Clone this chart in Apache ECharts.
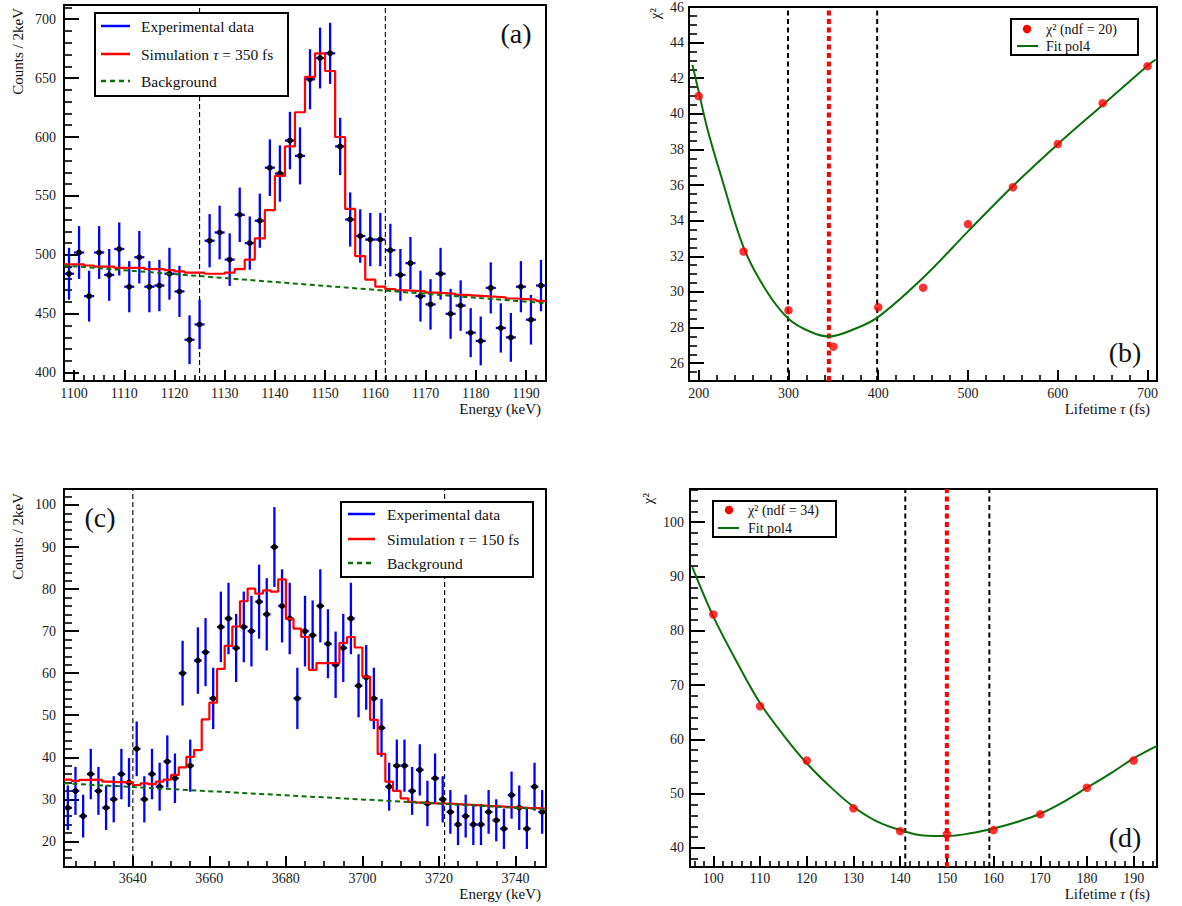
<!DOCTYPE html>
<html><head><meta charset="utf-8">
<script src="https://cdn.jsdelivr.net/npm/echarts@6/dist/echarts.min.js"></script>
<style>html,body{margin:0;padding:0;background:#fff}#c{width:1182px;height:906px}</style>
</head><body><div id="c"></div>
<script>
// ---------------- Panel (a) : 1146 keV line ----------------
const aBinCenters = [1099,1101,1103,1105,1107,1109,1111,1113,1115,1117,1119,1121,1123,1125,1127,1129,1131,1133,1135,1137,1139,1141,1143,1145,1147,1149,1151,1153,1155,1157,1159,1161,1163,1165,1167,1169,1171,1173,1175,1177,1179,1181,1183,1185,1187,1189,1191,1193];
const aCounts = [484,502,465,502,483,505,473,498,473,474,484,469,428,441,512,519,496,534,510,529,574,569,597,584,649,667,671,592,530,516,513,513,504,483,493,465,458,484,450,457,434,427,472,438,430,473,445,474];
const aErrors = [22.0,22.4,21.6,22.4,22.0,22.5,21.7,22.3,21.7,21.8,22.0,21.7,20.7,21.0,22.6,22.8,22.3,23.1,22.6,23.0,24.0,23.9,24.4,24.2,25.5,25.8,25.9,24.3,23.0,22.7,22.6,22.6,22.4,22.0,22.2,21.6,21.4,22.0,21.2,21.4,20.8,20.7,21.7,20.9,20.7,21.7,21.1,21.8];
const aSim = [492,492,491,490,490,489,489,489,488,488,487,486,485,485,484,484,485,488,496,514,538,567,592,621,651,671,656,600,539,499,479,473,471,470,469.5,469,468,467.5,467,466,465.5,465,464.5,464,463,462.5,462,461];
const aBkgX = [1098, 1194];
const aBkgY = [491, 459];
const aWindow = [1125, 1162];
const aXTicks = [1100,1110,1120,1130,1140,1150,1160,1170,1180,1190];
const aYTicks = [400,450,500,550,600,650,700];

// ---------------- Panel (b) : chi2 vs lifetime ----------------
const bTau = [200,250,300,350,400,450,500,550,600,650,700];
const bChi2 = [41.0,32.27,28.97,26.93,29.14,30.24,33.81,35.88,38.31,40.6,42.68];
const bFitTau = [193,200,210,225,250,275,300,325,345,375,400,450,500,550,600,650,700,709];
const bFitChi2 = [42.75,41.25,39.1,36.5,32.5,30.1,28.5,27.75,27.5,27.95,28.6,30.8,33.4,35.95,38.3,40.5,42.7,43.05];
const bBest = 345;
const bLimits = [299.5, 398.8];
const bXTicks = [200,300,400,500,600,700];
const bYTicks = [26,28,30,32,34,36,38,40,42,44,46];

// ---------------- Panel (c) : 3681 keV line ----------------
const cBinCenters = [3623,3625,3627,3629,3631,3633,3635,3637,3639,3641,3643,3645,3647,3649,3651,3653,3655,3657,3659,3661,3663,3665,3667,3669,3671,3673,3675,3677,3679,3681,3683,3685,3687,3689,3691,3693,3695,3697,3699,3701,3703,3705,3707,3709,3711,3713,3715,3717,3719,3721,3723,3725,3727,3729,3731,3733,3735,3737,3739,3741,3743,3745,3747];
const cCounts = [28,32,26,36,32,28,30,36,34,42,30,36,33,39,35,60,38,63,65,54,71,73,66,71,70,77,74,90,76,73,54,70,69,76,67,62,66,73,57,59,54,47,33,38,38,32,37,29,35,30,27,24,26,24,24,27,25,23,31,28,23,33,27];
const cErrors = [5.3,5.7,5.1,6.0,5.7,5.3,5.5,6.0,5.8,6.5,5.5,6.0,5.7,6.2,5.9,7.7,6.2,7.9,8.1,7.3,8.4,8.5,8.1,8.4,8.4,8.8,8.6,9.5,8.7,8.5,7.3,8.4,8.3,8.7,8.2,7.9,8.1,8.5,7.5,7.7,7.3,6.9,5.7,6.2,6.2,5.7,6.1,5.4,5.9,5.5,5.2,4.9,5.1,4.9,4.9,5.2,5.0,4.8,5.6,5.3,4.8,5.7,5.2];
const cSim = [34.7,34.4,34.6,34.7,34.6,34.2,34.1,34.1,34.1,33.4,33.8,33.6,34.2,34.7,35.8,37.6,40.1,41.7,49.0,53.0,61.0,66.5,71.1,77.1,80.1,78.9,79.7,79.4,82.3,72.9,70.6,68.6,60.8,62.4,62.4,62.4,67.2,68.6,66.1,59.2,48.9,40.8,34.2,32.0,30.2,29.4,29.2,29.1,29.0,29.0,28.9,28.8,28.7,28.6,28.5,28.4,28.3,28.2,28.1,28.0,27.9,27.9,27.8];
const cBkgX = [3622, 3748];
const cBkgY = [33.8, 27.6];
const cWindow = [3640, 3721.5];
const cXTicks = [3640,3660,3680,3700,3720,3740];
const cYTicks = [20,30,40,50,60,70,80,90,100];

// ---------------- Panel (d) : chi2 vs lifetime ----------------
const dTau = [100,110,120,130,140,150,160,170,180,190];
const dChi2 = [83.0,66.1,56.1,47.3,43.1,42.5,43.3,46.2,51.1,56.1];
const dFitTau = [95.5,100,105,110,115,120,125,130,135,140,145,150,155,160,165,170,175,180,185,190,195];
const dFitChi2 = [91.7,82.6,74.3,66.7,60.8,55.6,51.3,47.6,44.9,43.3,42.3,42.2,42.7,43.6,44.8,46.3,48.5,51.1,53.7,56.5,58.8];
const dBest = 150;
const dLimits = [141.1, 159.1];
const dXTicks = [100,110,120,130,140,150,160,170,180,190];
const dYTicks = [40,50,60,70,80,90,100];

// ---------------- layout / style ----------------
const FF = "'Liberation Serif','DejaVu Serif',serif";
const BLUE = '#0000ff', RED = '#ff0000', GREEN = '#0b6e0b';

const panels = [
  {grid:{left:64, top:5, width:482, height:376}, xr:[1098,1194], yr:[393,712], xt:aXTicks, yt:aYTicks, xm:2, ym:10, lm:8, xlm:5},
  {grid:{left:689, top:4, width:468, height:377}, xr:[189.2,710.5], yr:[25,46], xt:bXTicks, yt:bYTicks, xm:20, ym:0.5, lm:5, xlm:5},
  {grid:{left:64, top:489, width:482, height:378}, xr:[3622,3748], yr:[13.9,103.8], xt:cXTicks, yt:cYTicks, xm:5, ym:2, lm:8, xlm:4},
  {grid:{left:690, top:489, width:467, height:378}, xr:[95,195], yr:[36.5,106.1], xt:dXTicks, yt:dYTicks, xm:2, ym:2, lm:6, xlm:4}
];

function minorList(lo, hi, step){
  const out=[]; let v=Math.ceil(lo/step-1e-9)*step;
  for(; v<=hi+1e-9; v+=step) out.push(+v.toFixed(4));
  return out;
}
const plain = v => String(v);

const grids=[], xAxes=[], yAxes=[];
panels.forEach((p,g)=>{
  grids.push(Object.assign({show:true, borderColor:'#000', borderWidth:2, backgroundColor:'transparent', containLabel:false}, p.grid));
  const lab = {show:true, color:'#1a1a1a', fontFamily:FF, fontSize:14, formatter:plain};
  xAxes.push({type:'value', gridIndex:g, position:'bottom', min:p.xr[0], max:p.xr[1],
    axisLine:{show:false}, splitLine:{show:false},
    axisTick:{show:true, inside:true, length:11, customValues:p.xt, lineStyle:{color:'#000', width:2}},
    axisLabel:Object.assign({customValues:p.xt, margin:p.xlm}, lab)});
  xAxes.push({type:'value', gridIndex:g, position:'bottom', min:p.xr[0], max:p.xr[1],
    axisLine:{show:false}, splitLine:{show:false}, axisLabel:{show:false},
    axisTick:{show:true, inside:true, length:6, customValues:minorList(p.xr[0],p.xr[1],p.xm), lineStyle:{color:'#000', width:1.6}}});
  yAxes.push({type:'value', gridIndex:g, position:'left', min:p.yr[0], max:p.yr[1],
    axisLine:{show:false}, splitLine:{show:false},
    axisTick:{show:true, inside:true, length:15, customValues:p.yt, lineStyle:{color:'#000', width:2}},
    axisLabel:Object.assign({customValues:p.yt, margin:p.lm}, lab)});
  yAxes.push({type:'value', gridIndex:g, position:'left', min:p.yr[0], max:p.yr[1],
    axisLine:{show:false}, splitLine:{show:false}, axisLabel:{show:false},
    axisTick:{show:true, inside:true, length:8, customValues:minorList(p.yr[0],p.yr[1],p.ym), lineStyle:{color:'#000', width:1.6}}});
});

function ax(g){ return {xAxisIndex:2*g, yAxisIndex:2*g}; }

function errorSeries(g, centers, counts, errs){
  const hw = (centers[1]-centers[0])/2;
  return Object.assign({
    type:'custom', z:3, silent:true,
    data: centers.map((c,i)=>[c, counts[i], errs[i]]),
    renderItem:function(params, api){
      const x=api.value(0), y=api.value(1), e=api.value(2);
      const t=api.coord([x,y+e]), b=api.coord([x,y-e]), m=api.coord([x,y]);
      const l=api.coord([x-hw,y]), r=api.coord([x+hw,y]);
      const st={stroke:BLUE, lineWidth:2.3, fill:null};
      return {type:'group', children:[
        {type:'line', shape:{x1:t[0],y1:t[1],x2:b[0],y2:b[1]}, style:st},
        {type:'line', shape:{x1:l[0],y1:l[1],x2:r[0],y2:r[1]}, style:st},
        {type:'circle', shape:{cx:m[0], cy:m[1], r:2.9}, style:{fill:'#000', stroke:null}}
      ]};
    }
  }, ax(g));
}

function stepSeries(g, centers, vals){
  const hw = (centers[1]-centers[0])/2;
  const d = centers.map((c,i)=>[c-hw, vals[i]]);
  d.push([centers[centers.length-1]+hw, vals[vals.length-1]]);
  return Object.assign({type:'line', step:'end', data:d, symbol:'none', z:4, silent:true,
    lineStyle:{color:RED, width:2.2}}, ax(g));
}

function lineSeries(g, xs, ys, style, extra){
  return Object.assign({type:'line', data:xs.map((x,i)=>[x, ys[i]]), symbol:'none', silent:true,
    lineStyle:style}, ax(g), extra||{});
}

function vline(g, x, yr, style, z){
  return Object.assign({type:'line', data:[[x, yr[0]],[x, yr[1]]], symbol:'none', silent:true, z:z||2,
    lineStyle:style}, ax(g));
}

const series = [];
// (a)
aWindow.forEach(x=>series.push(vline(0, x, panels[0].yr, {color:'#000', width:1.1, type:[5,3]})));
series.push(errorSeries(0, aBinCenters, aCounts, aErrors));
series.push(stepSeries(0, aBinCenters, aSim));
series.push(lineSeries(0, aBkgX, aBkgY, {color:GREEN, width:2, type:[5,3.5]}, {z:5}));
// (b)
bLimits.forEach(x=>series.push(vline(1, x, panels[1].yr, {color:'#000', width:2, type:[5,3.5]})));
series.push(vline(1, bBest, panels[1].yr, {color:RED, width:4, type:[5,3.5]}, 3));
series.push(lineSeries(1, bFitTau, bFitChi2, {color:GREEN, width:2}, {smooth:0.35, z:4}));
series.push(Object.assign({type:'scatter', data:bTau.map((t,i)=>[t,bChi2[i]]), symbol:'circle', symbolSize:8.5,
  itemStyle:{color:RED}, z:5, silent:true}, ax(1)));
// (c)
cWindow.forEach(x=>series.push(vline(2, x, panels[2].yr, {color:'#000', width:1.1, type:[5,3]})));
series.push(errorSeries(2, cBinCenters, cCounts, cErrors));
series.push(stepSeries(2, cBinCenters, cSim));
series.push(lineSeries(2, cBkgX, cBkgY, {color:GREEN, width:2, type:[5,3.5]}, {z:5}));
// (d)
dLimits.forEach(x=>series.push(vline(3, x, panels[3].yr, {color:'#000', width:2, type:[5,3.5]})));
series.push(vline(3, dBest, panels[3].yr, {color:RED, width:4, type:[5,3.5]}, 3));
series.push(lineSeries(3, dFitTau, dFitChi2, {color:GREEN, width:2}, {smooth:0.35, z:4}));
series.push(Object.assign({type:'scatter', data:dTau.map((t,i)=>[t,dChi2[i]]), symbol:'circle', symbolSize:8.5,
  itemStyle:{color:RED}, z:5, silent:true}, ax(3)));

// ---------------- texts / legends ----------------
function txt(x, y, s, size, opts){
  return Object.assign({type:'text', x:x, y:y, z:20, style:Object.assign({text:s, fill:'#111',
    font: size+'px '+FF, align:'left', verticalAlign:'middle',
    rich:{i:{fontStyle:'italic', fontSize:size, fontFamily:FF, fill:'#111'}}}, opts&&opts.style||{})},
    opts&&opts.el||{});
}
function seg(x1,y1,x2,y2,color,w,dash){
  return {type:'line', z:20, shape:{x1,y1,x2,y2}, style:{stroke:color, lineWidth:w, lineDash:dash||null}};
}
function box(x,y,w,h){
  return {type:'rect', z:19, shape:{x,y,width:w,height:h}, style:{fill:'#fff', stroke:'#000', lineWidth:2}};
}

const graphics = [
  // legend (a)
  box(95,13,193,83),
  seg(101,26,130,26,BLUE,2.5), txt(141,26,'Experimental data',15.5),
  seg(101,54,130,54,RED,2.5), txt(141,54,'Simulation {i|τ} = 350 fs',15.5),
  seg(101,81,130,81,GREEN,2.5,[5,4]), txt(141,81,'Background',15.5),
  // legend (c)
  box(341,502,192,75),
  seg(348,514,375,514,BLUE,2.5), txt(387,514,'Experimental data',15.5),
  seg(348,539,375,539,RED,2.5), txt(387,539,'Simulation {i|τ} = 150 fs',15.5),
  seg(348,563,375,563,GREEN,2.5,[5,4]), txt(387,563,'Background',15.5),
  // legend (b)
  box(1011,19,127,36),
  {type:'circle', z:20, shape:{cx:1027, cy:29, r:4.2}, style:{fill:RED}},
  txt(1046,29,'χ² (ndf = 20)',14),
  seg(1017,46,1038,46,GREEN,2), txt(1046,46,'Fit pol4',14),
  // legend (d)
  box(713,501,123,36),
  {type:'circle', z:20, shape:{cx:729, cy:510, r:4.2}, style:{fill:RED}},
  txt(748,510,'χ² (ndf = 34)',14),
  seg(718,528,739,528,GREEN,2), txt(748,528,'Fit pol4',14),
  // panel tags
  txt(516,33,'(a)',28,{style:{align:'center'}}),
  txt(1125,352,'(b)',28,{style:{align:'center'}}),
  txt(100,517,'(c)',28,{style:{align:'center'}}),
  txt(1125,837,'(d)',28,{style:{align:'center'}}),
  // axis titles
  txt(18,8,'Counts / 2keV',15,{style:{align:'right'}, el:{rotation:Math.PI/2}}),
  txt(18,493,'Counts / 2keV',15,{style:{align:'right'}, el:{rotation:Math.PI/2}}),
  txt(655,8,'χ²',15,{style:{align:'right'}, el:{rotation:Math.PI/2}}),
  txt(648,493,'χ²',15,{style:{align:'right'}, el:{rotation:Math.PI/2}}),
  txt(541,409,'Energy (keV)',15,{style:{align:'right'}}),
  txt(1150,409,'Lifetime {i|τ} (fs)',15,{style:{align:'right'}}),
  txt(541,894,'Energy (keV)',15,{style:{align:'right'}}),
  txt(1150,894,'Lifetime {i|τ} (fs)',15,{style:{align:'right'}})
];

const chart = echarts.init(document.getElementById('c'), null, {renderer:'svg', width:1182, height:906});
chart.setOption({
  animation:false,
  backgroundColor:'#fff',
  grid:grids, xAxis:xAxes, yAxis:yAxes,
  series:series,
  graphic:{elements:graphics}
});
</script></body></html>
